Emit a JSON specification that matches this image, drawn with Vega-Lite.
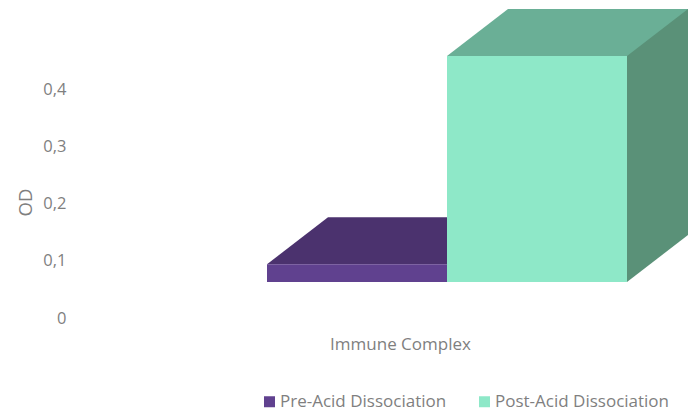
{
  "$schema": "https://vega.github.io/schema/vega-lite/v6.json",
  "width": 610,
  "height": 286,
  "autosize": {"type": "none"},
  "padding": {"left": 72, "top": 32, "right": 15, "bottom": 94},
  "background": "white",
  "config": {"view": {"stroke": null}, "font": "Open Sans"},
  "data": {
    "values": [
      {"category": "Immune Complex", "series": "Pre-Acid Dissociation", "od": 0.031},
      {"category": "Immune Complex", "series": "Post-Acid Dissociation", "od": 0.395}
    ]
  },
  "encoding": {
    "x": {
      "field": "series",
      "type": "nominal",
      "sort": ["Pre-Acid Dissociation", "Post-Acid Dissociation"],
      "scale": {"range": [148, 508], "paddingInner": 0, "paddingOuter": 0},
      "axis": {
        "labels": false,
        "ticks": false,
        "domain": false,
        "title": "Immune Complex",
        "titleX": 328,
        "titleY": 31,
        "titleAlign": "center",
        "titleBaseline": "alphabetic",
        "titleFontSize": 17,
        "titleFontWeight": "normal",
        "titleColor": "#7f7f7f"
      }
    },
    "y": {
      "field": "od",
      "type": "quantitative",
      "scale": {"domain": [0, 0.5], "nice": false},
      "axis": {
        "values": [0, 0.1, 0.2, 0.3, 0.4],
        "labelExpr": "datum.value == 0 ? '0' : replace(format(datum.value, '.1f'), '.', ',')",
        "grid": false,
        "domain": false,
        "ticks": false,
        "labelPadding": 6,
        "labelFontSize": 16.5,
        "labelColor": "#7f7f7f",
        "title": "OD",
        "titleX": -41,
        "titleY": 170,
        "titleAngle": -90,
        "titleAlign": "center",
        "titleBaseline": "alphabetic",
        "titleFontSize": 18.5,
        "titleFontWeight": "normal",
        "titleColor": "#7f7f7f"
      }
    }
  },
  "layer": [
    {
      "mark": {"type": "bar", "width": 61, "xOffset": 167.5, "yOffset": -83, "y2Offset": -36},
      "encoding": {
        "y2": {"datum": 0},
        "color": {
          "condition": {"test": "datum.series === 'Pre-Acid Dissociation'", "value": "#4B326E"},
          "value": "#5A9178"
        }
      }
    },
    {
      "mark": {"type": "point", "shape": "M137,-36L198,-36L198,-83Z", "size": 4, "filled": true, "opacity": 1, "strokeWidth": 0, "color": "white"},
      "encoding": {"y": {"datum": 0}}
    },
    {
      "mark": {"type": "point", "shape": "M-43,-36L137,-36L198,-83L18,-83Z", "size": 4, "filled": true, "opacity": 1, "strokeWidth": 0},
      "encoding": {
        "color": {
          "condition": {"test": "datum.series === 'Pre-Acid Dissociation'", "value": "#4B326E"},
          "value": "#6AAF96"
        }
      }
    },
    {
      "mark": {"type": "bar", "xOffset": 47, "yOffset": -36, "y2Offset": -36},
      "encoding": {
        "y2": {"datum": 0},
        "color": {
          "field": "series",
          "type": "nominal",
          "scale": {"domain": ["Pre-Acid Dissociation", "Post-Acid Dissociation"], "range": ["#60418F", "#8EE8C8"]},
          "legend": {
            "orient": "none",
            "legendX": 189,
            "legendY": 361,
            "direction": "horizontal",
            "title": null,
            "symbolType": "square",
            "symbolSize": 121,
            "symbolStrokeWidth": 0,
            "labelFontSize": 17,
            "labelColor": "#7f7f7f",
            "labelOffset": 2,
            "columnPadding": 29,
            "labelLimit": 300
          }
        }
      }
    }
  ]
}
